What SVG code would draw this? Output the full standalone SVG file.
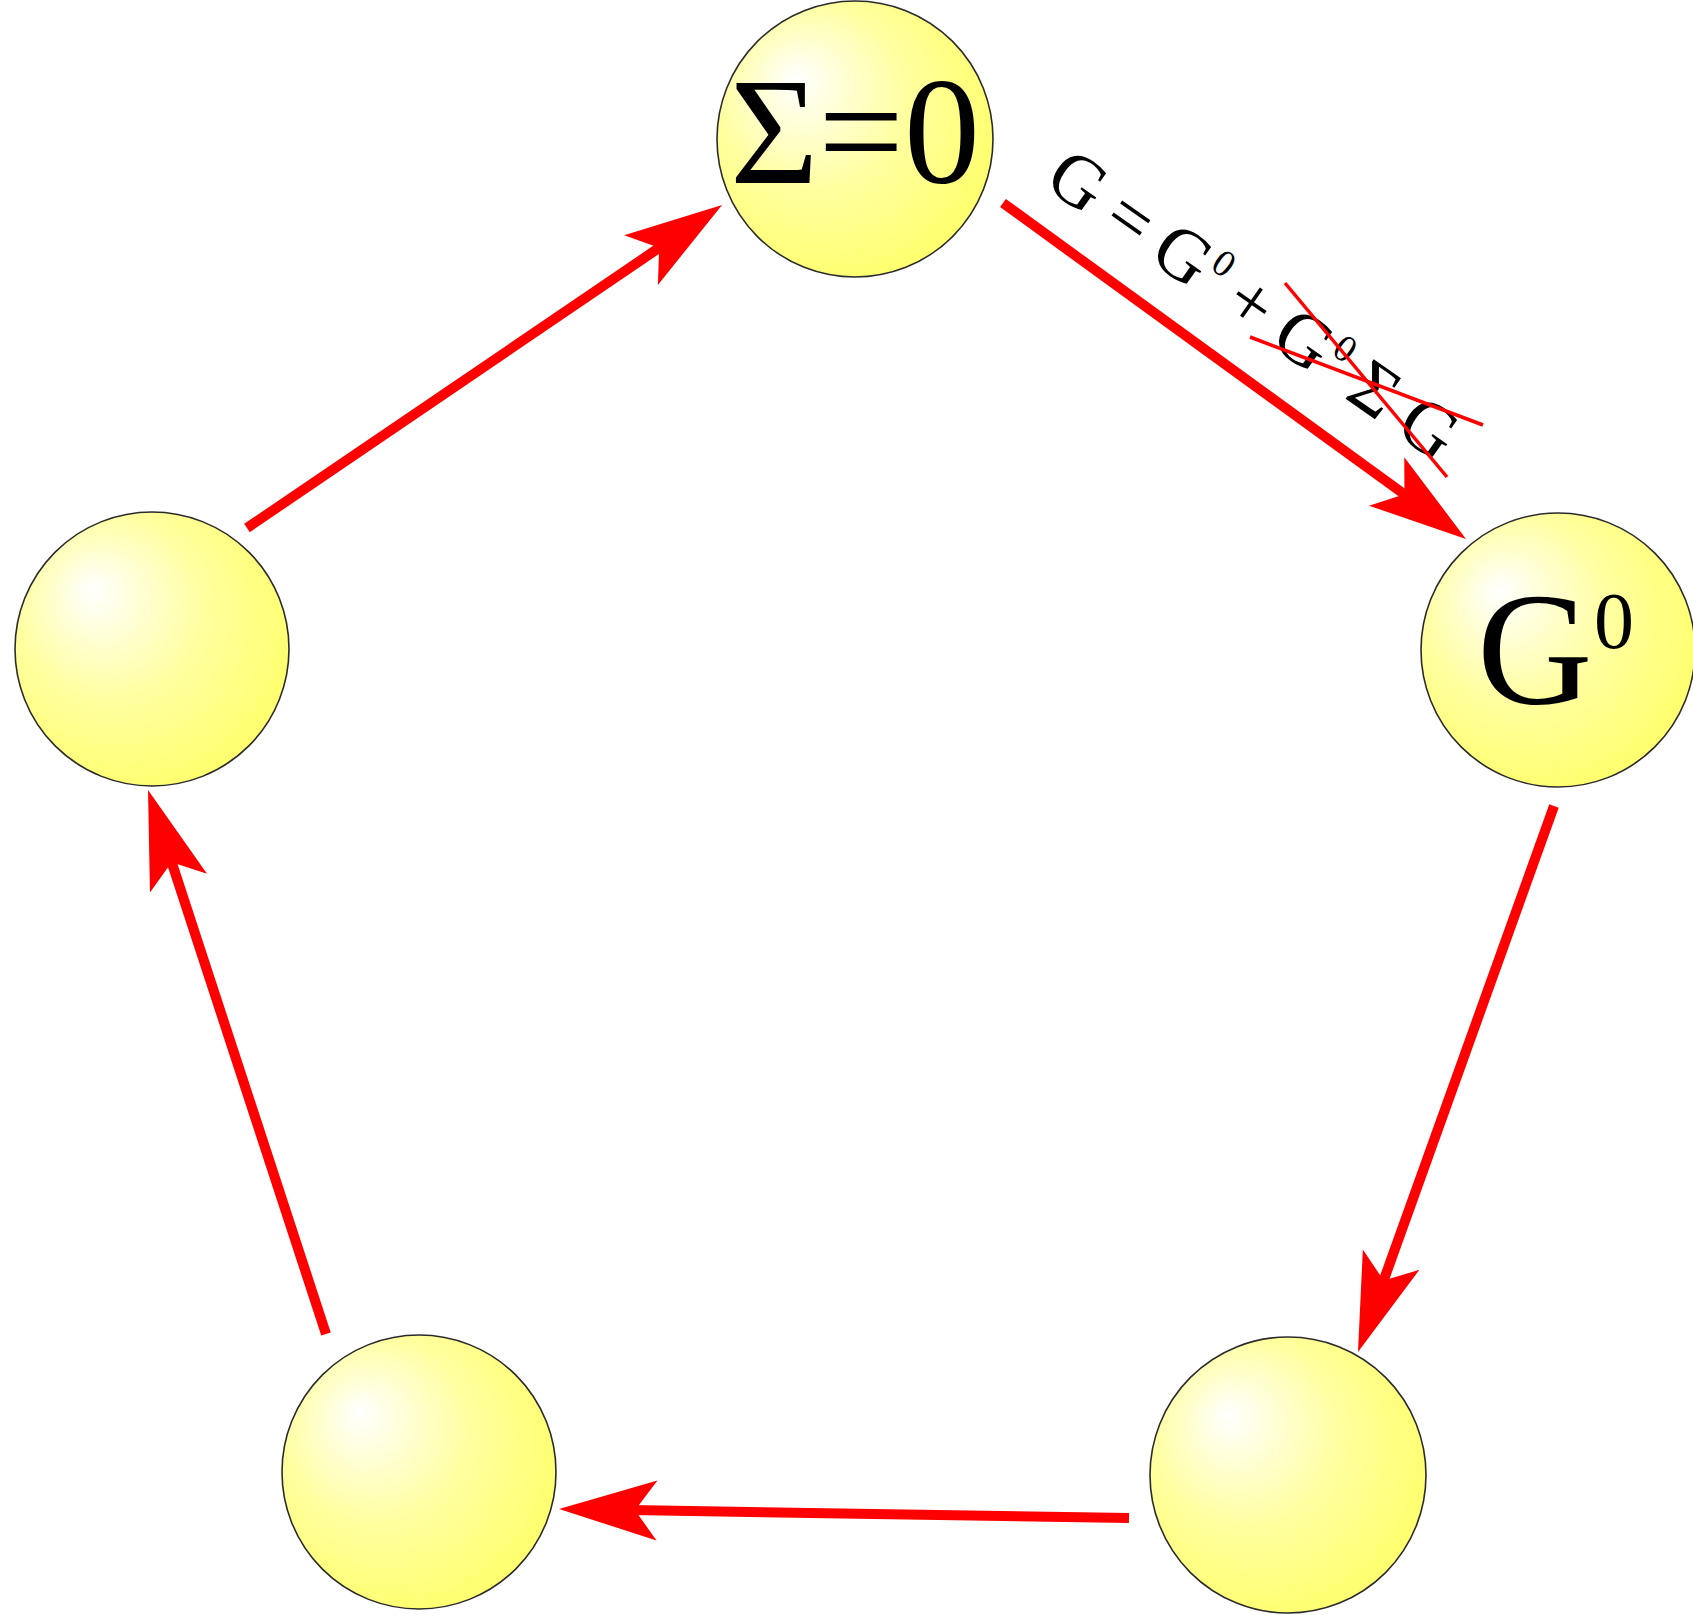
<svg xmlns="http://www.w3.org/2000/svg" width="1693" height="1615" viewBox="0 0 1693 1615">
  <style>
    .node { fill: url(#ball); stroke: #2b2b2b; stroke-width: 1.6; }
    .conn { stroke: #ff0000; stroke-width: 10; fill: none; stroke-linecap: butt; marker-end: url(#head); }
    .lbl { font-family: "Liberation Serif", "Times New Roman", serif; fill: #000; }
    .strike { stroke: #ff0000; stroke-width: 3.5; fill: none; }
  </style>
  <defs>
    <radialGradient id="ball" cx="0.4" cy="0.4" r="0.62" fx="0.28" fy="0.28">
      <stop offset="0" stop-color="#ffffff"/>
      <stop offset="0.55" stop-color="#ffffa0"/>
      <stop offset="1" stop-color="#ffff70"/>
    </radialGradient>
    <marker id="head" markerUnits="userSpaceOnUse" orient="auto" refX="0" refY="0" markerWidth="200" markerHeight="200" viewBox="-100 -100 200 200" overflow="visible">
      <path d="M72,0 L-26,-30 L-4,0 L-26,30 Z" fill="#ff0000"/>
    </marker>
  </defs>
  <rect width="1693" height="1615" fill="#ffffff"/>

  <g id="connectors">
    <line class="conn" x1="247" y1="528" x2="662.5" y2="245.5"/>
    <line class="conn" x1="1003" y1="203" x2="1407.7" y2="496.7"/>
    <line class="conn" x1="1554" y1="806" x2="1382.3" y2="1284.2"/>
    <line class="conn" x1="1129" y1="1518" x2="631" y2="1510.1"/>
    <line class="conn" x1="326" y1="1334" x2="170.4" y2="858.4"/>
    <g id="edge-label">
      <text class="lbl" transform="rotate(35.1)" font-size="74"><tspan x="959.4" y="-447.5">G</tspan><tspan x="1029.7" y="-447.5">=</tspan><tspan x="1087.6" y="-447.5">G</tspan><tspan x="1143.5" y="-475.7" font-size="38">0</tspan><tspan x="1177.1" y="-447.5">+</tspan><tspan x="1235.5" y="-447.5">G</tspan><tspan x="1291.6" y="-475.7" font-size="38">0</tspan><tspan x="1327.3" y="-447.5">Σ</tspan><tspan x="1388.5" y="-447.5">G</tspan></text>
      <line class="strike" x1="1285" y1="283" x2="1447" y2="477"/>
      <line class="strike" x1="1250" y1="337" x2="1483" y2="425"/>
    </g>
  </g>

  <g id="node-sigma">
    <circle class="node" cx="855" cy="139" r="138"/>
    <text class="lbl" x="855" y="183" font-size="152" text-anchor="middle">Σ=0</text>
  </g>
  <g id="node-g0">
    <circle class="node" cx="1558" cy="650" r="137"/>
    <text class="lbl" font-size="160"><tspan x="1477" y="703">G</tspan><tspan x="1594" y="648" font-size="80">0</tspan></text>
  </g>
  <g id="node-bottom-right">
    <circle class="node" cx="1288" cy="1475" r="138"/>
  </g>
  <g id="node-bottom-left">
    <circle class="node" cx="419" cy="1472" r="137"/>
  </g>
  <g id="node-left">
    <circle class="node" cx="152" cy="649" r="137"/>
  </g>
</svg>
